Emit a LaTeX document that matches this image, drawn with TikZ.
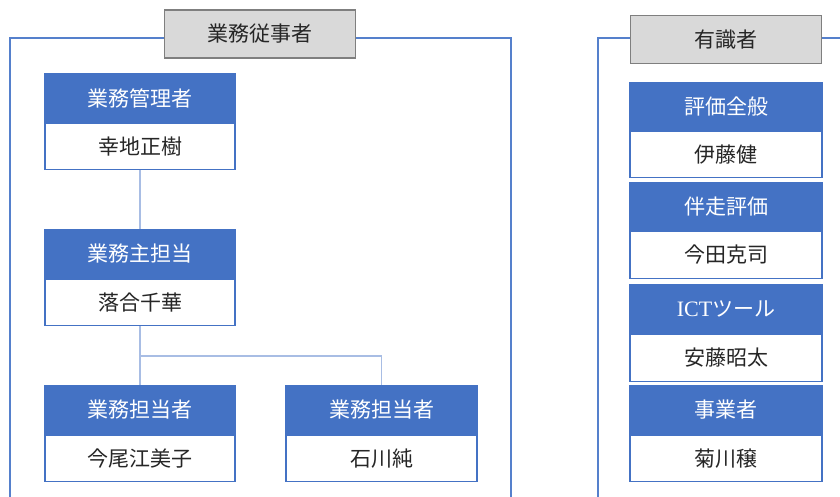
\documentclass[tikz,border=0pt]{standalone}
\usepackage{fontspec}
\setmainfont{Liberation Serif}
\newfontfamily\cjk{Noto Sans CJK JP}
\definecolor{hblue}{HTML}{4472C4}
\definecolor{fblue}{HTML}{5580CC}
\definecolor{cblue}{HTML}{A8BDE4}
\definecolor{tgray}{HTML}{D9D9D9}
\definecolor{bgray}{HTML}{7F7F7F}
\begin{document}
\begin{tikzpicture}[x=1pt,y=-1pt,
  hdr/.style={fill=hblue, draw=hblue, line width=1.2pt, text=white, minimum height=48, inner sep=0,
    font=\cjk\fontsize{21}{21}\selectfont},
  nm/.style={fill=white, draw=hblue, line width=1.2pt, text=black!85, minimum height=46, inner sep=0,
    font=\cjk\fontsize{21}{21}\selectfont},
  ttl/.style={fill=tgray, draw=bgray, line width=1.2pt, text=black!85, minimum width=191, minimum height=48, inner sep=0,
    font=\cjk\fontsize{21}{21}\selectfont},
  frame/.style={draw=fblue, line width=1.2pt},
  conn/.style={draw=cblue, line width=1.2pt}]
\useasboundingbox (0,0) rectangle (840,496);
\begin{scope}
\clip (0,0) rectangle (840,496);
% left group
\node[ttl] (t1) at (260,34) {業務従事者};
\coordinate (f1a) at (10,38);
\coordinate (f1b) at (511,38);
\draw[frame] (t1.west |- f1a) -- (f1a) -- (10,510);
\draw[frame] (t1.east |- f1b) -- (f1b) -- (511,510);
% right group
\node[ttl] (t2) at (726,39.5) {有識者};
\coordinate (f2a) at (598,38);
\coordinate (f2b) at (845,38);
\draw[frame] (t2.west |- f2a) -- (f2a) -- (598,510);
\draw[frame] (t2.east |- f2b) -- (f2b);
\end{scope}

% left boxes
\node[hdr, minimum width=190] (h1) at (140,98) {業務管理者};
\node[nm, minimum width=190, anchor=north] (n1) at (h1.south) {幸地正樹};
\node[hdr, minimum width=190] (h2) at (140,254) {業務主担当};
\node[nm, minimum width=190, anchor=north] (n2) at (h2.south) {落合千華};
\node[hdr, minimum width=190] (h3) at (140,410) {業務担当者};
\node[nm, minimum width=190, anchor=north] (n3) at (h3.south) {今尾江美子};
\node[hdr, minimum width=191] (h4) at (381.5,410) {業務担当者};
\node[nm, minimum width=191, anchor=north] (n4) at (h4.south) {石川純};

\coordinate (br) at (140,356);
\draw[conn] (n1.south) -- (h2.north);
\draw[conn] (n2.south) -- (br) -- (h3.north);
\draw[conn] (br) -| (h4.north);

% right boxes
\node[hdr, minimum width=192, minimum height=47] (r1) at (726,106.5) {評価全般};
\node[nm, minimum width=192, anchor=north] (s1) at (r1.south) {伊藤健};
\node[hdr, minimum width=192, minimum height=47] (r2) at (726,206.5) {伴走評価};
\node[nm, minimum width=192, minimum height=47, anchor=north] (s2) at (r2.south) {今田克司};
\node[hdr, minimum width=192] (r3) at (726,309) {{\rmfamily\fontsize{22}{22}\selectfont ICT}ツール};
\node[nm, minimum width=192, minimum height=47, anchor=north] (s3) at (r3.south) {安藤昭太};
\node[hdr, minimum width=192] (r4) at (726,410) {事業者};
\node[nm, minimum width=192, anchor=north] (s4) at (r4.south) {菊川穣};
\end{tikzpicture}
\end{document}
